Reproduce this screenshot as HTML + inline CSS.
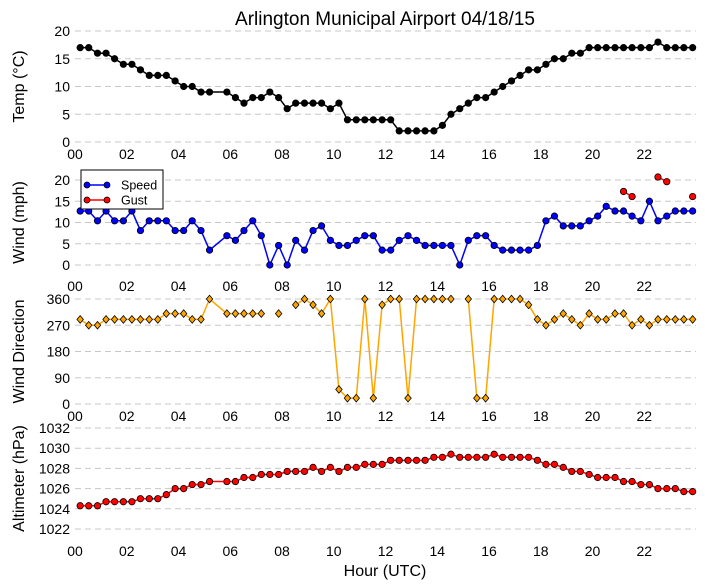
<!DOCTYPE html>
<html><head><meta charset="utf-8"><style>
body{margin:0;background:#fff}
svg{display:block;font-family:"Liberation Sans","DejaVu Sans",sans-serif}
</style></head><body>
<svg id="chart" width="705" height="588" viewBox="0 0 705 588" xmlns="http://www.w3.org/2000/svg">
<text x="385" y="25" font-size="19" text-anchor="middle">Arlington Municipal Airport 04/18/15</text>
</svg>
<script>
const N = null;
const hourTicks = ["00","02","04","06","08","10","12","14","16","18","20","22"];
const obsHour = [0.2,0.53,0.87,1.2,1.53,1.87,2.2,2.53,2.87,3.2,3.53,3.87,4.2,4.53,4.87,5.2,5.87,6.2,6.53,6.87,7.2,7.53,7.87,8.2,8.53,8.87,9.2,9.53,9.87,10.2,10.53,10.87,11.2,11.53,11.87,12.2,12.53,12.87,13.2,13.53,13.87,14.2,14.53,14.87,15.2,15.53,15.87,16.2,16.53,16.87,17.2,17.53,17.87,18.2,18.53,18.87,19.2,19.53,19.87,20.2,20.53,20.87,21.2,21.53,21.87,22.2,22.53,22.87,23.2,23.53,23.87];
const tempC = [17,17,16,16,15,14,14,13,12,12,12,11,10,10,9,9,9,8,7,8,8,9,8,6,7,7,7,7,6,7,4,4,4,4,4,4,2,2,2,2,2,3,5,6,7,8,8,9,10,11,12,13,13,14,15,15,16,16,17,17,17,17,17,17,17,17,18,17,17,17,17];
const windSpeed = [12.7,12.7,10.4,12.7,10.4,10.4,12.7,8.1,10.4,10.4,10.4,8.1,8.1,10.4,8.1,3.5,6.9,5.8,8.1,10.4,6.9,0,4.6,0,5.8,3.5,8.1,9.2,5.8,4.6,4.6,5.8,6.9,6.9,3.5,3.5,5.8,6.9,5.8,4.6,4.6,4.6,4.6,0,5.8,6.9,6.9,4.6,3.5,3.5,3.5,3.5,4.6,10.4,11.5,9.2,9.2,9.2,10.4,11.5,13.8,12.7,12.7,11.5,10.4,15,10.4,11.5,12.7,12.7,12.7];
const windGust = [N,N,N,N,N,N,N,N,N,N,N,N,N,N,N,N,N,N,N,N,N,N,N,N,N,N,N,N,N,N,N,N,N,N,N,N,N,N,N,N,N,N,N,N,N,N,N,N,N,N,N,N,N,N,N,N,N,N,N,N,N,N,17.3,16.1,N,N,20.7,19.6,N,N,16.1];
const windDir = [290,270,270,290,290,290,290,290,290,290,310,310,310,290,290,360,310,310,310,310,310,N,310,N,340,360,340,310,360,50,20,20,360,20,340,360,360,20,360,360,360,360,360,N,360,20,20,360,360,360,360,340,290,270,290,310,290,270,310,290,290,310,310,270,290,270,290,290,290,290,290];
const altimeter = [1024.3,1024.3,1024.3,1024.7,1024.7,1024.7,1024.7,1025.0,1025.0,1025.0,1025.4,1026.0,1026.0,1026.4,1026.4,1026.7,1026.7,1026.7,1027.1,1027.1,1027.4,1027.4,1027.4,1027.7,1027.7,1027.7,1028.1,1027.7,1028.1,1027.7,1028.1,1028.1,1028.4,1028.4,1028.4,1028.8,1028.8,1028.8,1028.8,1028.8,1029.1,1029.1,1029.4,1029.1,1029.1,1029.1,1029.1,1029.4,1029.1,1029.1,1029.1,1029.1,1028.8,1028.4,1028.4,1028.1,1027.7,1027.7,1027.4,1027.1,1027.1,1027.1,1026.7,1026.7,1026.4,1026.4,1026.0,1026.0,1026.0,1025.7,1025.7];
const tempTicks = [0,5,10,15,20];
const windTicks = [0,5,10,15,20];
const dirTicks = [0,90,180,270,360];
const altTicks = [1022,1024,1026,1028,1030,1032];

const svg = document.getElementById('chart');
const NS = 'http://www.w3.org/2000/svg';
const X0 = 75, X1 = 696;
function xs(h){ return X0 + h*(X1-X0)/24; }
function mk(tag, attrs, parent){ const e=document.createElementNS(NS,tag); for(const k in attrs) e.setAttribute(k,attrs[k]); (parent||svg).appendChild(e); return e; }

function panel(name, yPix0, yPix1, v0, v1, ticks, xlabY, ylabel, ylabX){
  const g = mk('g',{});
  
  
  const ys = v => yPix0 + (v-v0)*(yPix1-yPix0)/(v1-v0);
  ticks.forEach(t=>{
    const y = ys(t);
    const l = mk('line',{x1:X0,x2:X1,y1:y,y2:y,stroke:'#c8c8c8','stroke-dasharray':'6,4','stroke-width':1},g);
    
    
    const tx = mk('text',{x:70,y:y+5,'font-size':14,'text-anchor':'end'},g);
    
    
    tx.textContent = t;
  });
  hourTicks.forEach((lab,i)=>{
    const tx = mk('text',{x:xs(i*2),y:xlabY,'font-size':14,'text-anchor':'middle'},g);
    
    
    tx.textContent = lab;
  });
  const yl = mk('text',{x:0,y:0,'font-size':16,'text-anchor':'middle',transform:'translate('+ylabX+','+((yPix0+yPix1)/2)+') rotate(-90)'},g);
  
  
  yl.textContent = ylabel;
  return {g, ys};
}
function series(p, arr, color, edge, shape, name){
  const g = mk('g',{},p.g);
  
  
  let seg=[];
  const segs=[];
  arr.forEach((v,i)=>{ if(v===null){ if(seg.length) segs.push(seg); seg=[]; } else seg.push([xs(obsHour[i]),p.ys(v)]); });
  if(seg.length) segs.push(seg);
  segs.forEach(s=>{ if(s.length>1){
    const pl = mk('polyline',{points:s.map(q=>q.join(',')).join(' '),fill:'none',stroke:color,'stroke-width':1.5},g);
    
    
  }});
  arr.forEach((v,i)=>{ if(v===null) return;
    const x=xs(obsHour[i]), y=p.ys(v); let m;
    if(shape==='d') m = mk('polygon',{points:`${x},${y-3.8} ${x+3.2},${y} ${x},${y+3.8} ${x-3.2},${y}`,fill:color,stroke:edge,'stroke-width':0.8},g);
    else m = mk('circle',{cx:x,cy:y,r:3.2,fill:color,stroke:edge,'stroke-width':0.8},g);
    
    
  });
}
const p1 = panel('temperature',142,31,0,20,tempTicks,159,'Temp (\u00B0C)',24);
series(p1,tempC,'#000','#000','o','temperature');
const p2 = panel('wind-speed',265,180,0,20,windTicks,291,'Wind (mph)',24);
series(p2,windSpeed,'#0000ff','#000','o','wind-speed');
series(p2,windGust,'#ff0000','#000','o','wind-gust');
const p3 = panel('wind-direction',404,299,0,360,dirTicks,421,'Wind Direction',24);
series(p3,windDir,'#ffa500','#000','d','wind-direction');
const p4 = panel('altimeter',529,428,1022,1032,altTicks,556,'Altimeter (hPa)',24);
series(p4,altimeter,'#ff0000','#000','o','altimeter');

const lg = mk('g',{});


mk('rect',{x:81,y:170,width:82,height:39,fill:'#fff',stroke:'#000','stroke-width':1},lg);
[['Speed','#0000ff',185],['Gust','#ff0000',200]].forEach(([lab,c,y])=>{
  const e = mk('g',{},lg);
  
  
  mk('line',{x1:87,x2:107,y1:y,y2:y,stroke:c,'stroke-width':1.5},e);
  mk('circle',{cx:87,cy:y,r:3,fill:c,stroke:'#000','stroke-width':0.8},e);
  mk('circle',{cx:107,cy:y,r:3,fill:c,stroke:'#000','stroke-width':0.8},e);
  const t = mk('text',{x:121,y:y+4.5,'font-size':12.5},e);
  t.textContent = lab;
});
const xt = mk('text',{x:385,y:576,'font-size':16,'text-anchor':'middle'});


xt.textContent = 'Hour (UTC)';
</script>
</body></html>
